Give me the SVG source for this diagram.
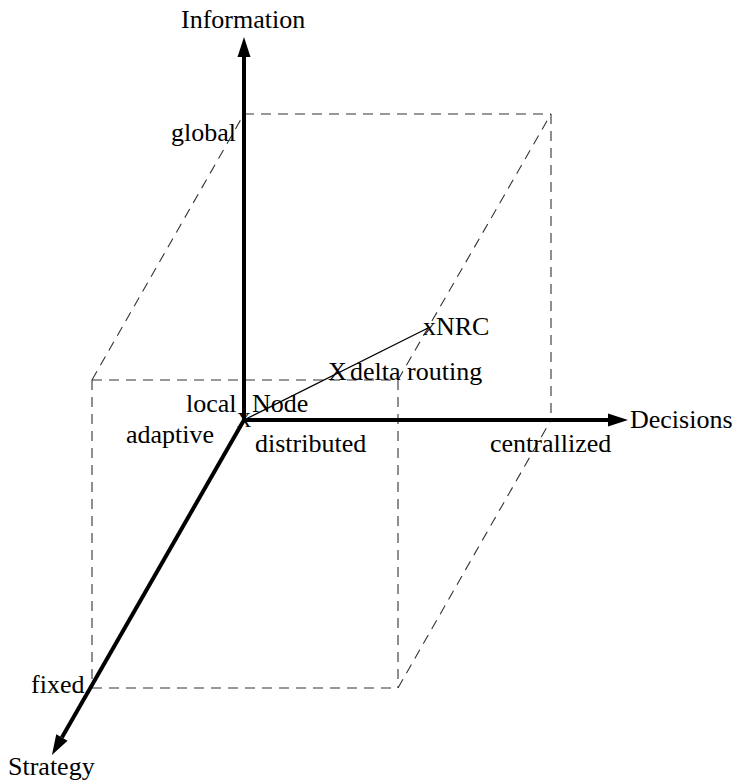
<svg xmlns="http://www.w3.org/2000/svg" width="734" height="783" viewBox="0 0 734 783">
<defs>
<style>
.t{font-family:"Liberation Serif","Times New Roman",serif;font-size:26px;fill:#000}
.d{stroke:#333;stroke-width:1.1;stroke-dasharray:10 7;fill:none}
.ax{stroke:#000;stroke-width:4;fill:none}
</style>
<marker id="ah" markerUnits="userSpaceOnUse" markerWidth="21" markerHeight="14" refX="0" refY="6.5" orient="auto" overflow="visible">
<path d="M0,0 L20,6.5 L0,13 z" fill="#000"/>
</marker>
</defs>
<rect width="734" height="783" fill="#fff"/>
<g id="connectors">
<g id="box">
<line class="d" x1="244" y1="114" x2="551" y2="114"/>
<line class="d" x1="551" y1="114" x2="551" y2="420"/>
<line class="d" x1="92" y1="380" x2="398" y2="380"/>
<line class="d" x1="92" y1="380" x2="92" y2="688"/>
<line class="d" x1="398" y1="380" x2="398" y2="688"/>
<line class="d" x1="92" y1="688" x2="398" y2="688"/>
<line class="d" x1="92" y1="380" x2="244" y2="114"/>
<line class="d" x1="398" y1="380" x2="551" y2="114"/>
<line class="d" x1="398" y1="688" x2="551" y2="420"/>
</g>
<line id="link" x1="244" y1="420" x2="428" y2="328" stroke="#000" stroke-width="1.3"/>
<line id="axis-info" class="ax" x1="244" y1="420" x2="244" y2="57" marker-end="url(#ah)"/>
<line id="axis-dec" class="ax" x1="244" y1="420" x2="608" y2="420" marker-end="url(#ah)"/>
<line id="axis-str" class="ax" x1="244" y1="420" x2="61.9" y2="737.6" marker-end="url(#ah)"/>
</g>
<g id="labels">
<text class="t" x="181" y="28">Information</text>
<text class="t" x="171" y="141">global</text>
<text class="t" x="630" y="428">Decisions</text>
<text class="t" x="490" y="452">centrallized</text>
<text class="t" x="255" y="452">distributed</text>
<text class="t" x="126" y="443">adaptive</text>
<text class="t" x="186" y="412">local</text>
<text class="t" x="252" y="412">Node</text>
<text class="t" x="31" y="693">fixed</text>
<text class="t" x="8" y="775">Strategy</text>
</g>
<g id="node-origin"><text class="t" x="244" y="427" text-anchor="middle" style="font-size:20px">X</text></g>
<g id="node-delta"><text class="t" x="328" y="380">X</text><text class="t" x="350" y="380">delta routing</text></g>
<g id="node-xnrc"><text class="t" x="423" y="335">xNRC</text></g>
</svg>
